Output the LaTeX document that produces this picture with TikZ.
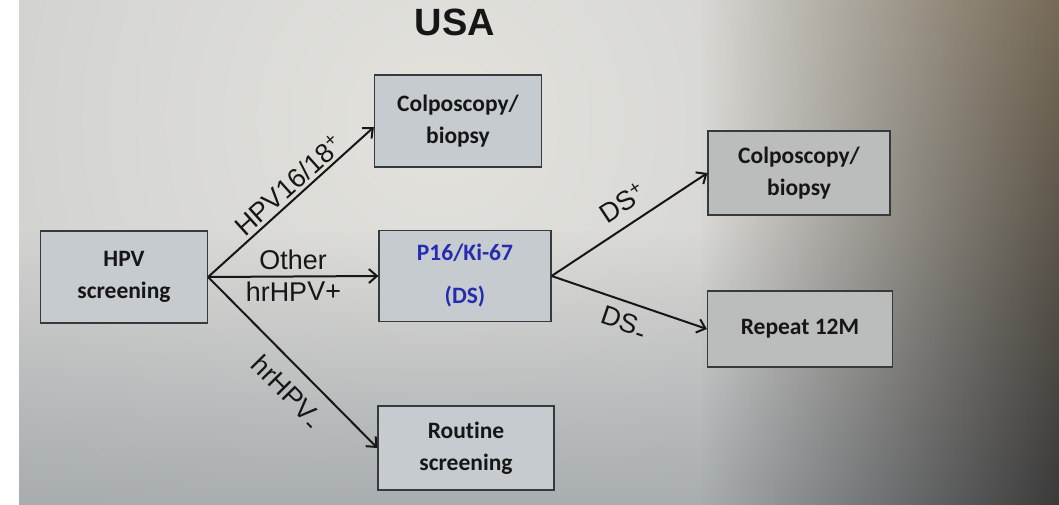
\documentclass[tikz,border=0pt]{standalone}
\usepackage{fontspec}
\setmainfont{Liberation Sans}
\newfontfamily\calibrilike[Ligatures=NoCommon]{Carlito}
\usetikzlibrary{arrows.meta,fadings}

\definecolor{screenlight}{RGB}{227,226,221}
\definecolor{screenedge}{RGB}{178,181,182}
\definecolor{screenlow}{RGB}{158,164,168}
\definecolor{rimtop}{RGB}{118,106,86}
\definecolor{rimbottom}{RGB}{58,58,58}
\definecolor{boxfill}{RGB}{197,203,206}
\definecolor{boxfillB}{RGB}{186,189,188}
\definecolor{boxline}{RGB}{55,58,60}
\definecolor{inkblue}{RGB}{38,44,175}
\definecolor{ink}{RGB}{22,22,22}

% transparent on the left, opaque on the right
\tikzfading[name=rightdark, left color=transparent!100, right color=transparent!0]
% transparent at the top, opaque at the bottom
\tikzfading[name=lowdark, top color=transparent!100, bottom color=transparent!0]

% raised plus and lowered dash used in the branch labels
\newcommand\hiplus{\raisebox{0.32em}{\fontsize{19}{19}\selectfont+}}
\newcommand\lodash{\raisebox{-0.22em}{-}}

\begin{document}
\begin{tikzpicture}[x=1pt,y=-1pt,
  box/.style={draw=boxline, line width=1.2pt, fill=boxfill, align=center,
    inner sep=0pt, text=ink,
    font=\calibrilike\bfseries\fontsize{23.5}{32}\selectfont},
  flow/.style={draw=ink, line width=2pt,
    -{Straight Barb[length=8pt,width=14pt]}},
  lbl/.style={font=\fontsize{27}{30}\selectfont, text=ink, inner sep=2pt, sloped}
]
\useasboundingbox (0,0) rectangle (1059,505);

% screen background with lighting
\begin{scope}
  \clip (0,0) rectangle (1059,505);
  \shade[inner color=screenlight, outer color=screenedge] (440,120) circle (1300);
  \fill[screenlow, path fading=lowdark, fill opacity=0.8] (0,230) rectangle (1059,505);
  \shade[top color=rimtop, bottom color=rimbottom, path fading=rightdark]
    (700,0) rectangle (1059,505);
\end{scope}
\fill[white] (0,0) rectangle (19,505);

% title
\node[font=\bfseries\fontsize{38}{42}\selectfont, text=ink] (title) at (455,22) {USA};

% boxes
\node[box, minimum width=167pt, minimum height=92pt] (hpv) at (124,277) {HPV\\screening};
\node[box, minimum width=167pt, minimum height=92pt] (colA) at (458,121) {Colposcopy/\\biopsy};
\node[box, minimum width=172pt, minimum height=91pt, text=inkblue,
      font=\calibrilike\bfseries\fontsize{23.5}{43}\selectfont] (ds) at (465,276) {P16/Ki-67\\(DS)};
\node[box, minimum width=176pt, minimum height=84pt] (routine) at (466,448) {Routine\\screening};
\node[box, minimum width=182pt, minimum height=84pt, fill=boxfillB] (colB) at (799,173) {Colposcopy/\\biopsy};
\node[box, minimum width=185pt, minimum height=76pt, fill=boxfillB] (repeat) at (800,329) {Repeat 12M};

% connectors
\draw[flow] (hpv.east) -- ([yshift=-6pt]colA.west)
  node[lbl, pos=0.54, above=1pt] {HPV16/18\hiplus};
\draw[flow] (hpv.east) -- (ds.west)
  node[lbl, pos=0.5, above=4pt] {Other}
  node[lbl, pos=0.5, below=2pt] {hrHPV+};
\draw[flow] (hpv.east) -- (routine.west)
  node[lbl, pos=0.57, below=11pt] {hrHPV\lodash};
\draw[flow] (ds.east) -- (colB.west)
  node[lbl, pos=0.53, above=9pt] {DS\hiplus};
\draw[flow] (ds.east) -- (repeat.west)
  node[lbl, pos=0.51, below=7pt] {DS\lodash};
\end{tikzpicture}
\end{document}
